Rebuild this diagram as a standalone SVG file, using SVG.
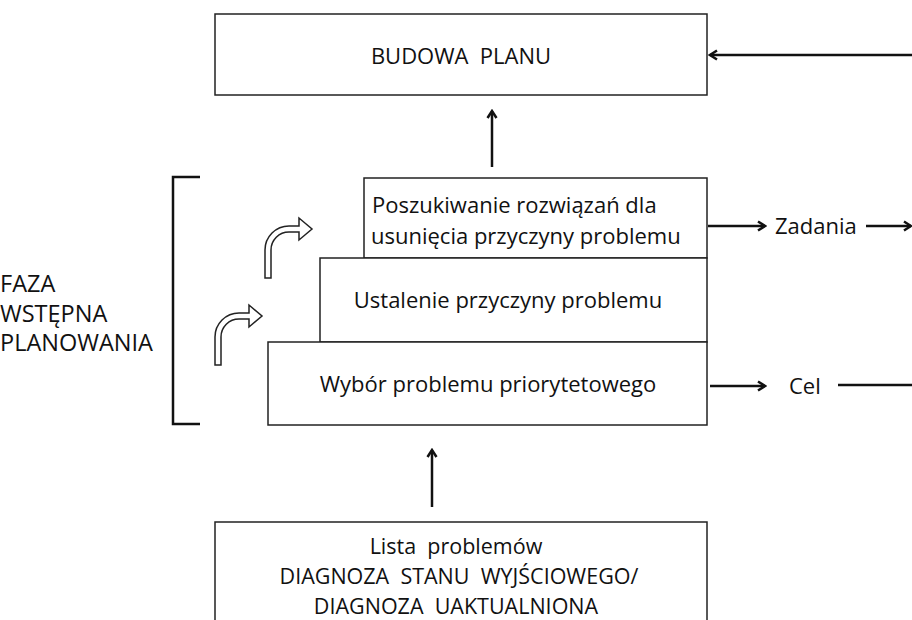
<svg xmlns="http://www.w3.org/2000/svg" width="912" height="620" viewBox="0 0 912 620">
<defs>
<style>
.box{fill:#fff;stroke:#222;stroke-width:1.5}
.t{font-family:"Open Sans","Noto Sans","Liberation Sans",sans-serif;font-size:22px;fill:#111;white-space:pre}
.f{font-size:23.5px}
.s{font-size:21.5px}
.c{text-anchor:middle}
.ln{stroke:#111;stroke-width:2.5;fill:none}
.hollow{fill:#fff;stroke:#222;stroke-width:1.5;stroke-linejoin:miter}
</style>
<marker id="ah" viewBox="0 0 12 12" refX="10" refY="6" markerWidth="12" markerHeight="12" markerUnits="userSpaceOnUse" orient="auto">
<polyline points="3,1.5 10,6 3,10.5" fill="none" stroke="#111" stroke-width="2.5"/>
</marker>
<path id="curv" d="M265,278 V250 A24,24 0 0 1 289,226 H299 V218 L312,229 L299,240 V232 H289 A18,18 0 0 0 271,250 V278 Z"/>
</defs>
<g id="budowa">
<rect class="box" x="215" y="14" width="492" height="81"/>
<text class="t c" x="461" y="64">BUDOWA  PLANU</text>
</g>
<g id="poszukiwanie">
<rect class="box" x="364" y="178" width="343" height="80"/>
<text class="t" x="372" y="213">Poszukiwanie rozwiązań dla</text>
<text class="t" x="371" y="244">usunięcia przyczyny problemu</text>
</g>
<g id="ustalenie">
<rect class="box" x="320" y="258" width="387" height="84"/>
<text class="t c" x="508" y="308">Ustalenie przyczyny problemu</text>
</g>
<g id="wybor">
<rect class="box" x="268" y="342" width="439" height="83"/>
<text class="t c" x="488" y="392">Wybór problemu priorytetowego</text>
</g>
<g id="lista">
<rect class="box" x="215" y="522" width="492" height="110"/>
<text class="t s c" x="456" y="554">Lista  problemów</text>
<text class="t s c" x="459" y="584">DIAGNOZA  STANU  WYJŚCIOWEGO/</text>
<text class="t s c" x="456" y="614">DIAGNOZA  UAKTUALNIONA</text>
</g>
<g id="faza">
<path d="M200,177 H173 V424 H200" fill="none" stroke="#111" stroke-width="2.5"/>
<text class="t f" x="0" y="292">FAZA</text>
<text class="t f" x="0" y="322">WSTĘPNA</text>
<text class="t f" x="0" y="351">PLANOWANIA</text>
</g>
<g id="labels">
<text class="t" x="775" y="234">Zadania</text>
<text class="t" x="789" y="394">Cel</text>
</g>
<g id="connectors">
<line class="ln" x1="912" y1="55" x2="710" y2="55" marker-end="url(#ah)"/>
<line class="ln" x1="492" y1="167" x2="492" y2="111" marker-end="url(#ah)"/>
<line class="ln" x1="432" y1="507" x2="432" y2="450" marker-end="url(#ah)"/>
<line class="ln" x1="708" y1="226" x2="765" y2="226" marker-end="url(#ah)"/>
<line class="ln" x1="866" y1="226" x2="911" y2="226" marker-end="url(#ah)"/>
<line class="ln" x1="710" y1="386" x2="765" y2="386" marker-end="url(#ah)"/>
<line class="ln" x1="838" y1="385" x2="912" y2="385"/>
<use href="#curv" class="hollow"/>
<use href="#curv" class="hollow" transform="translate(-50,87)"/>
</g>
</svg>
